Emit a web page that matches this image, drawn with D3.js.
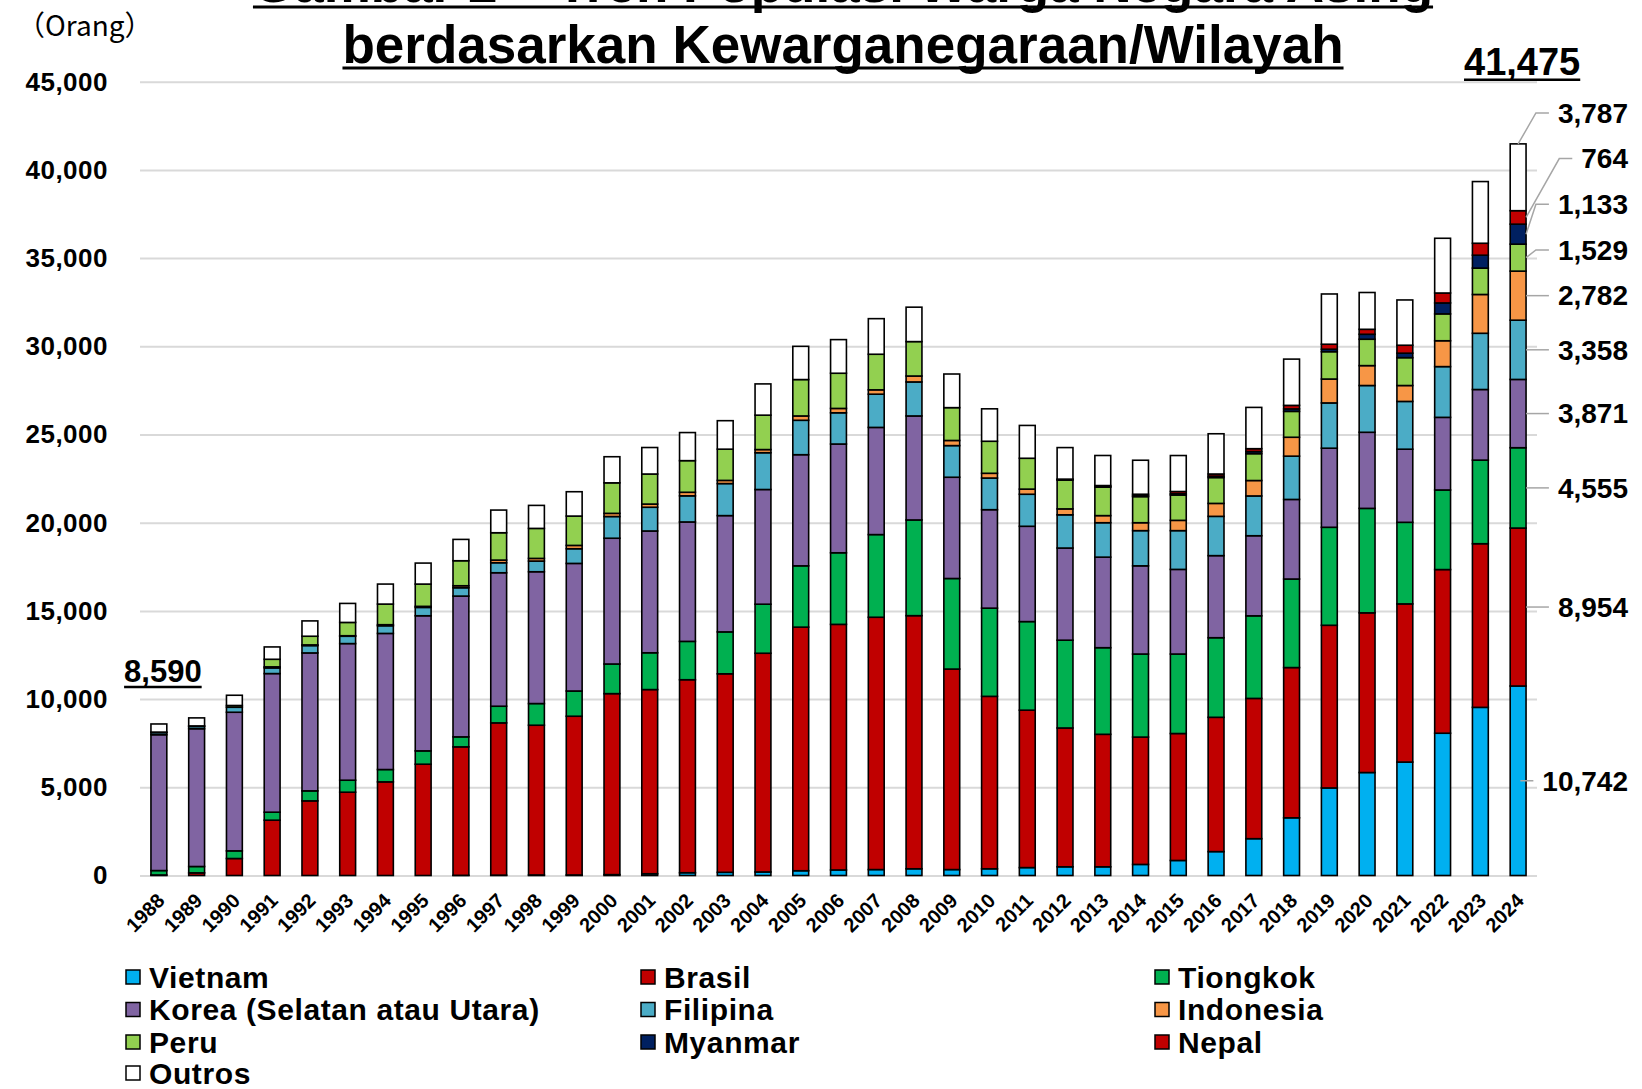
<!DOCTYPE html>
<html><head><meta charset="utf-8">
<script src="https://cdn.jsdelivr.net/npm/d3@7"></script>
<style>
body{margin:0;background:#fff}
svg{display:block}
text{font-family:"Liberation Sans",Arial,sans-serif;fill:#000}
</style>
</head><body>
<svg id="chart" width="1642" height="1089"></svg>
<script>
// ---------- DATA ----------
const years = ["1988","1989","1990","1991","1992","1993","1994","1995","1996","1997","1998","1999","2000","2001","2002","2003","2004","2005","2006","2007","2008","2009","2010","2011","2012","2013","2014","2015","2016","2017","2018","2019","2020","2021","2022","2023","2024"];
const yTicks = [0,5000,10000,15000,20000,25000,30000,35000,40000,45000];
const titleLines = ["Gambar 2 – Tren Populasi Warga Negara Asing","berdasarkan Kewarganegaraan/Wilayah"];
const unitLabel = "（Orang）";

const seriesNames = ["Vietnam","Brasil","Tiongkok","Korea (Selatan atau Utara)","Filipina","Indonesia","Peru","Myanmar","Nepal","Outros"];
const seriesColors = ["#00B0F0","#C00000","#00B050","#8064A2","#4BACC6","#F79646","#92D050","#002060","#C00000","#FFFFFF"];

const vietnam   = [0,0,0,0,0,0,0,0,10,20,30,30,50,100,157,180,200,270,314,336,381,336,381,448,493,493,628,852,1354,2087,3271,4963,5837,6430,8065,9532,10742];
const brasil    = [30,150,963,3136,4231,4722,5308,6309,7282,8632,8489,8999,10260,10440,10941,11254,12400,13810,13923,14304,14349,11367,9775,8924,7870,7511,7219,7197,7614,7952,8517,9222,9053,8967,9278,9277,8954];
const tiongkok  = [250,360,434,453,567,680,699,756,567,944,1228,1430,1680,2086,2174,2376,2780,3475,4058,4686,5426,5134,5000,5022,4977,4910,4708,4506,4512,4681,5019,5555,5922,4625,4512,4738,4555];
const korea     = [7700,7810,7858,7858,7820,7745,7716,7660,7981,7567,7473,7233,7130,6905,6771,6592,6502,6300,6165,6076,5896,5740,5582,5403,5224,5134,5000,4798,4653,4541,4512,4484,4314,4145,4117,4004,3871];
const filipina  = [120,130,283,321,416,416,435,473,473,567,605,832,1230,1345,1480,1816,2085,1951,1771,1883,1928,1794,1794,1816,1883,1951,1995,2197,2227,2256,2454,2566,2651,2708,2877,3187,3358];
const indonesia = [0,0,0,60,40,30,60,60,113,151,151,189,180,180,202,180,179,246,247,247,336,291,269,291,336,403,449,583,734,874,1071,1354,1128,902,1466,2200,2782];
const peru      = [30,30,100,430,490,754,1169,1263,1418,1550,1701,1663,1730,1704,1793,1771,1951,2063,1995,2018,1951,1861,1816,1749,1637,1614,1480,1435,1466,1523,1467,1551,1495,1579,1523,1494,1529];
const myanmar   = [0,0,0,0,0,0,0,0,0,0,0,0,0,0,0,0,0,0,0,0,0,0,0,0,20,30,50,70,80,120,140,140,282,254,620,733,1133];
const nepal     = [0,0,0,0,0,0,0,0,0,0,0,0,0,0,0,0,0,0,0,0,0,0,0,0,30,60,85,130,120,162,200,283,282,451,564,677,764];
const outros    = [460,455,580,699,869,1077,1134,1190,1209,1285,1304,1380,1480,1502,1592,1614,1771,1883,1906,2017,1951,1906,1839,1861,1788,1704,1927,2040,2282,2340,2623,2848,2086,2566,3102,3497,3787];
const seriesValues = [vietnam,brasil,tiongkok,korea,filipina,indonesia,peru,myanmar,nepal,outros];
const totalLabelYears = ["1988","2024"];

// ---------- BUILD ----------
const rows = years.map((yr,i)=>{const r={year:yr}; seriesNames.forEach((n,k)=>r[n]=seriesValues[k][i]); return r;});
const stacked = d3.stack().keys(seriesNames)(rows);
const color = d3.scaleOrdinal().domain(seriesNames).range(seriesColors);
const fmt = d3.format(",");

const svg = d3.select("#chart");
const L=140, R=1537, B=875.5, T=81.7;
const x = d3.scaleBand().domain(years).range([L,R]).paddingInner(0.58).paddingOuter(0.29);
const y = d3.scaleLinear().domain([0,45000]).range([B,T]);

// gridlines + y labels
const yAxis = svg.append("g").attr("transform",`translate(${L},0)`)
  .call(d3.axisLeft(y).tickValues(yTicks).tickSize(-(R-L)).tickPadding(32).tickFormat(fmt));
yAxis.select(".domain").remove();
yAxis.selectAll(".tick line").attr("stroke","#D9D9D9").attr("stroke-width",2);
yAxis.selectAll(".tick text").attr("font-size",26).attr("font-weight","bold").attr("letter-spacing","0.5px")
  .attr("font-family","'Liberation Sans',Arial,sans-serif").attr("fill","#000");

// bars
svg.append("g").selectAll("g").data(stacked).join("g")
  .attr("fill",d=>color(d.key))
  .selectAll("rect").data(d=>d.filter(s=>s[1]-s[0]>0)).join("rect")
  .attr("x",d=>x(d.data.year)).attr("width",x.bandwidth())
  .attr("y",d=>y(d[1])).attr("height",d=>y(d[0])-y(d[1]))
  .attr("stroke","#000").attr("stroke-width",1.6);

// x labels
svg.append("g").selectAll("text").data(years).join("text")
  .attr("transform",d=>`translate(${x(d)+x.bandwidth()/2+7},${B+26.5}) rotate(-45)`)
  .attr("text-anchor","end").attr("font-size",20).attr("font-weight","bold").text(d=>d);

// title
const cx = 843;
titleLines.forEach((t,i)=>{
  const by = i===0 ? 2 : 63;
  const tx = svg.append("text").attr("x",cx).attr("y",by).attr("text-anchor","middle")
    .attr("font-size",53).attr("font-weight","bold").text(t);
  const w = tx.node().getComputedTextLength();
  svg.append("line").attr("x1",cx-w/2).attr("x2",cx+w/2).attr("y1",by+5).attr("y2",by+5)
    .attr("stroke","#000").attr("stroke-width",3);
});
svg.append("text").attr("x",17).attr("y",36).attr("font-size",28)
  .style("font-family","'Noto Sans CJK JP',sans-serif").text(unitLabel);

// total labels
const totals = years.map((yr,i)=>d3.sum(seriesValues,s=>s[i]));
totalLabelYears.forEach(yr=>{
  const i = years.indexOf(yr);
  const first = i===0;
  const fs = first?31:38;
  const by = first ? y(totals[i])-42 : y(45000)-7;
  const tcx = x(yr)+x.bandwidth()/2+4;
  const tx = svg.append("text").attr("x",tcx).attr("y",by).attr("text-anchor","middle")
    .attr("font-size",fs).attr("font-weight","bold").text(fmt(totals[i]));
  const w = tx.node().getComputedTextLength();
  svg.append("line").attr("x1",tcx-w/2).attr("x2",tcx+w/2).attr("y1",by+5).attr("y2",by+5)
    .attr("stroke","#000").attr("stroke-width",2.5);
});

// right-side labels for last year
const li = years.length-1, lastYear = years[li];
const barRight = x(lastYear)+x.bandwidth(), barMid = x(lastYear)+x.bandwidth()/2;
const segs = stacked.map((s,k)=>({k, v:seriesValues[k][li], y0:y(s[li][0]), y1:y(s[li][1])}));
segs.forEach((s,k)=>{ s.ideal = k===segs.length-1 ? s.y1-31 : (s.y0+s.y1)/2; s.ly = s.ideal; });
const minGap = 45;
let start = -1;
for(let k=1;k<segs.length;k++){ if(segs[k-1].ideal - segs[k].ideal < minGap){ start=k-1; break; } }
if(start>=0){
  const a = segs[start].ideal, b = segs[segs.length-1].ideal, n = segs.length-1-start;
  for(let k=start;k<segs.length;k++) segs[k].ly = a + (b-a)*(k-start)/n;
}
const labelRight = 1628;
segs.forEach((s,k)=>{
  const tx = svg.append("text").attr("x",labelRight).attr("y",s.ly).attr("dy","0.35em")
    .attr("text-anchor","end").attr("font-size",28).attr("font-weight","bold").text(fmt(s.v));
  const w = tx.node().getComputedTextLength();
  const endX = labelRight - w - 9;
  const sx = k===segs.length-1 ? barMid : barRight;
  const sy = k===segs.length-1 ? s.y1 : (s.y0+s.y1)/2;
  svg.append("polyline").attr("points",`${sx},${sy} ${endX-13},${s.ly} ${endX},${s.ly}`)
    .attr("fill","none").attr("stroke","#A6A6A6").attr("stroke-width",1.5);
});

// legend
const colX = [126,641,1155], rowY = [977,1009.5,1042,1073];
const lg = svg.append("g").selectAll("g").data(seriesNames).join("g")
  .attr("transform",(d,i)=>`translate(${colX[i%3]},${rowY[Math.floor(i/3)]})`);
lg.append("rect").attr("x",0).attr("y",-7).attr("width",14).attr("height",14)
  .attr("fill",d=>color(d)).attr("stroke","#000").attr("stroke-width",1.5);
lg.append("text").attr("x",23).attr("y",0).attr("dy","0.36em").attr("font-size",30)
  .attr("letter-spacing","0.6px").attr("font-weight","bold").text(d=>d);
</script>
</body></html>
